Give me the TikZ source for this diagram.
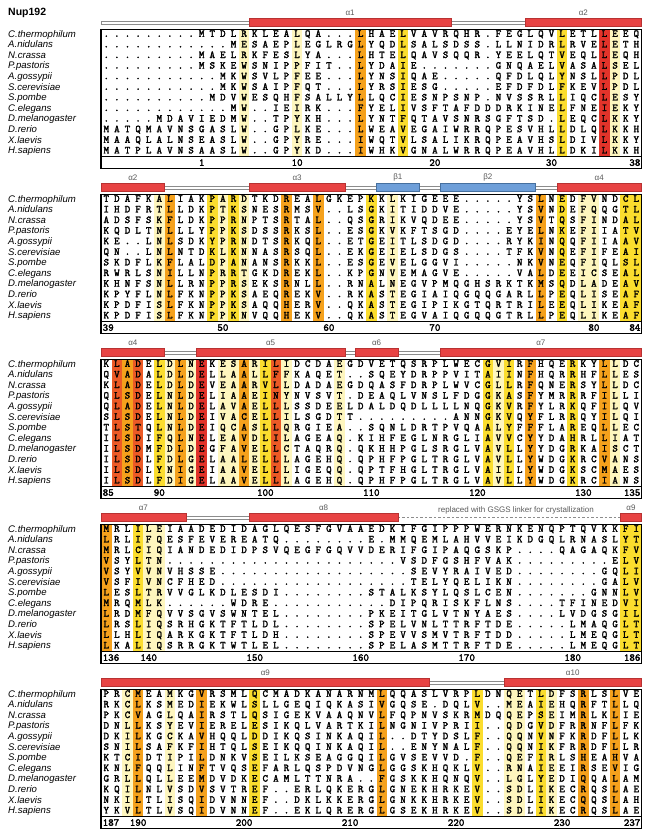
\documentclass[tikz,border=0pt]{standalone}
\usepackage{fontspec}
\setmainfont{Liberation Sans}
\newfontfamily\seqfont{Latin Modern Mono}[FakeBold=2.2]
\usepackage{tikz}
\usetikzlibrary{calc}
\usepackage{xcolor}
\definecolor{helixRed}{HTML}{E84343}
\definecolor{helixEdge}{HTML}{B83232}
\definecolor{strandBlue}{HTML}{6E9FD9}
\definecolor{strandEdge}{HTML}{46709F}
\definecolor{loopGray}{HTML}{8C8C8C}
\definecolor{labelGray}{HTML}{5A5A5A}
\definecolor{consRed}{HTML}{E2332A}
\definecolor{consDeep}{HTML}{EC5A26}
\definecolor{consOrange}{HTML}{F5A11C}
\definecolor{consYellow}{HTML}{FBDD2E}
\definecolor{consPale}{HTML}{FEF6BE}
\def\boxX{101}
\def\colW{10.6}
\newcount\rescol
\def\endRes{}
\tikzset{
    SeqText/.style={font=\fontsize{10.5}{10.5}\selectfont\seqfont, inner sep=0pt, anchor=base},
    SpeciesText/.style={font=\fontsize{9.6}{10}\selectfont\itshape, inner sep=0pt, anchor=base west},
    RulerText/.style={font=\fontsize{10.5}{10.5}\selectfont\seqfont, inner sep=0pt, anchor=base},
    TitleText/.style={font=\fontsize{10.5}{12}\selectfont\bfseries, inner sep=0pt, anchor=west},
    SSLabel/.style={font=\fontsize{8}{9}\selectfont, text=labelGray, inner sep=0pt},
    HelixBar/.style={fill=helixRed, draw=helixEdge, line width=0.6pt},
    StrandBar/.style={fill=strandBlue, draw=strandEdge, line width=0.6pt},
    LoopBar/.style={fill=white, draw=loopGray, line width=0.6pt},
    LinkerLine/.style={draw=loopGray, line width=0.8pt, dash pattern=on 2.5pt off 2pt},
    BoxLine/.style={draw=black, line width=1.3pt}
}
% one residue after the other, column by column
\def\readRes#1{%
  \ifx#1\endRes\let\nextRes\relax
  \else
    \advance\rescol by 1\relax
    \node[SeqText] (res-\rowTag-\the\rescol) at ({\boxX+(\the\rescol-0.5)*\colW},\rowY+3.2) {#1};%
    \let\nextRes\readRes
  \fi\nextRes}
\newcommand{\seqRow}[3]{%
  \pgfmathsetmacro\rowY{\blkTop+4.3+10.6*#1}%
  \node[SpeciesText] (sp-\blkId-#1) at (8,\rowY+3.4) {#2};%
  \rescol=0 \edef\rowTag{\blkId-#1}%
  \readRes#3\endRes}
\newcommand{\consBands}[1]{%
  \foreach \c/\cl in {#1}{\fill[\cl] ({\boxX+(\c-1)*\colW},\blkTop) rectangle ++(\colW,127);}}
\newcommand{\blockBox}{%
  \draw[BoxLine] (\boxX,\blkTop) rectangle ({\boxX+51*\colW},\blkTop+139);
  \draw[BoxLine] (\boxX,\blkTop+127) -- ({\boxX+51*\colW},\blkTop+127);}
\newcommand{\loopLine}[2]{%
  \filldraw[LoopBar] ({\boxX+#1*\colW},\blkTop-8) rectangle ({\boxX+#2*\colW},\blkTop-5.4);}
\newcommand{\ssBar}[5]{%
  \draw[#1] ({\boxX+#2*\colW},\blkTop-11) rectangle ({\boxX+#3*\colW},\blkTop-2.6);
  \node[SSLabel] (#5) at ({\boxX+(#2+#3)/2*\colW},\blkTop-16.5) {#4};}
\newcommand{\rulerMarks}[3]{%
  \node[RulerText, anchor=base west] (num-#1) at (\boxX+1.5,\blkTop+136.5) {#1};
  \foreach \c/\n in {#2}{\node[RulerText] (num-\n) at ({\boxX+(\c-0.5)*\colW},\blkTop+136.5) {\n};}
  \node[RulerText, anchor=base east] (num-#3) at ({\boxX+51*\colW-1},\blkTop+136.5) {#3};}

\begin{document}
\begin{tikzpicture}[x=1pt, y=-1pt]
    \useasboundingbox (0,0) rectangle (650,838);
    \node[TitleText] (title) at (8,13) {Nup192};

    % residues 1-38
    \def\blkTop{29.3}\def\blkId{1}
    \loopLine{0}{51}
    \ssBar{HelixBar}{14}{33}{α1}{h1}
    \ssBar{HelixBar}{40}{51}{α2}{h2a}
    \consBands{14/consPale,19/consPale,25/consOrange,29/consYellow,44/consYellow,48/consRed,49/consPale}
    \seqRow{0}{C.thermophilum}{.........MTDLRKLEALQA...LHAELVAVRQHR.FEGLQVLETLLEEQ}
    \seqRow{1}{A.nidulans}{............MESAEPLEGLRGLYQDLSALSDSS.LLNIDRLRVELETH}
    \seqRow{2}{N.crassa}{.........MAELRKFESLYA...LHTELQAVSQQR.YEELQTVEQLLEQH}
    \seqRow{3}{P.pastoris}{.........MSKEWSNIPPFIT..LYDAIE.......GNQAELVASALSEL}
    \seqRow{4}{A.gossypii}{...........MKWSVLPFEE...LYNSIQAE.....QFDLQLYNSLLPDL}
    \seqRow{5}{S.cerevisiae}{...........MKWSAIPFQT...LYRSIESG.....EFDFDLFKEVLPDL}
    \seqRow{6}{S.pombe}{..........MDVWESQHFSALLYLLQCIESNPSNP.NVSSRLLIQCLESY}
    \seqRow{7}{C.elegans}{............MW..IEIRK...FYELIVSFTAFDDDRKINELFNEIEKY}
    \seqRow{8}{D.melanogaster}{.....MDAVIEDMW..TPYKH...LYNTFQTAVSNRSGFTSD.LEQCLKKY}
    \seqRow{9}{D.rerio}{MATQMAVNSGASLW..GPLKE...LWEAVEGAIWRRQPESVHLLDLQLKKH}
    \seqRow{10}{X.laevis}{MAAQLALNSEASLW..GPYRE...IWQTVLSALIKRQPEAVHSLDIVLKKY}
    \seqRow{11}{H.sapiens}{MATPLAVNSAASLW..GPYKD...IWHKVGNALWRRQPEAVHLLDKILKKH}
    \blockBox
    \foreach \c/\n in {10/1,19/10,32/20,43/30}{\node[RulerText] (num-\n) at ({\boxX+(\c-0.5)*\colW},\blkTop+136.5) {\n};}
    \node[RulerText, anchor=base east] (num-38) at ({\boxX+51*\colW-1},\blkTop+136.5) {38};

    % residues 39-84
    \def\blkTop{194.3}\def\blkId{2}
    \loopLine{0}{51}
    \ssBar{HelixBar}{0}{6}{α2}{h2b}
    \ssBar{HelixBar}{14}{23}{α3}{h3}
    \ssBar{StrandBar}{26}{30}{β1}{s1}
    \ssBar{StrandBar}{32}{41}{β2}{s2}
    \ssBar{HelixBar}{43}{51}{α4}{h4a}
    \consBands{6/consPale,7/consOrange,11/consYellow,12/consPale,13/consYellow,14/consPale,18/consOrange,21/consOrange,26/consYellow,28/consPale,42/consOrange,44/consYellow,46/consPale,47/consPale,50/consYellow,51/consYellow}
    \seqRow{0}{C.thermophilum}{TDAFKALIAKPARDTKDREALGKEPKKLKIGEEE.....YSLNEDFVNDCL}
    \seqRow{1}{A.nidulans}{IHDFRTLLDKPTKSNESRMSV..LSGKITIDDVE.....YSVNDEFQQGTL}
    \seqRow{2}{N.crassa}{ADSFSKFLDKPPRNPTSRTAL..QSGRIKVQDEE.....YSVTQSFINDAL}
    \seqRow{3}{P.pastoris}{KQDLTNLLLYPPKSDSSRKSL..ESGKVKFTSGD....EYELNKEFIIATV}
    \seqRow{4}{A.gossypii}{KE..LNLSDKYPRNDTSRKQL..ETGEITLSDGD....RYKINQQFIIAAV}
    \seqRow{5}{S.cerevisiae}{QN..LNLNTDKLKNNASRSQL..EKGEIELSDGS....TFKVNQEFIFEAI}
    \seqRow{6}{S.pombe}{SKDFLKFLALDPANANSRKKL..ESGEVELGGVI.....NKVNEQFIQLSL}
    \seqRow{7}{C.elegans}{RWRLSNILLNPRRTGKDREKL..KPGNVEMAGVE.....VALDEEICSEAL}
    \seqRow{8}{D.melanogaster}{KHNFSNLLRNPPRSEKSRNLL..RNALNEGVPMQGHSRKTKMSQDLADEAV}
    \seqRow{9}{D.rerio}{KPYFLNLFKNPPKSAEQREKV..RKASTEGIAIQGQQGARLLPEQLISEAF}
    \seqRow{10}{X.laevis}{KPDFISLFKNPPKSAQQHERV..QKASTEGIPIKGTQRTRILEEQLIKEAF}
    \seqRow{11}{H.sapiens}{KPDFISLFKNPPKNVQQHEKV..QKASTEGVAIQGQQGTRLLPEQLIKEAF}
    \blockBox
    \rulerMarks{39}{12/50,22/60,32/70,47/80}{84}

    % residues 85-135
    \def\blkTop{359.3}\def\blkId{3}
    \loopLine{0}{51}
    \ssBar{HelixBar}{0}{6}{α4}{h4b}
    \ssBar{HelixBar}{9}{23}{α5}{h5}
    \ssBar{HelixBar}{24}{28}{α6}{h6}
    \ssBar{HelixBar}{32}{51}{α7}{h7a}
    \consBands{2/consDeep,3/consOrange,4/consDeep,6/consYellow,7/consPale,8/consOrange,9/consPale,10/consRed,12/consPale,13/consPale,14/consOrange,15/consPale,16/consYellow,17/consDeep,18/consPale,23/consPale,37/consYellow,38/consPale,39/consYellow,41/consOrange,45/consYellow,48/consOrange,49/consPale}
    \seqRow{0}{C.thermophilum}{KLADELDLNEKESARILIDCDAEGDVETQSRPLWECGVIRFHQERKYLLDC}
    \seqRow{1}{A.nidulans}{QVADALDLDELLAALLFFKAQET..SQEYDRPPVITAIINFHQRRHFLLES}
    \seqRow{2}{N.crassa}{KLADELDLDEVEAARVLLDADAEGDQASFDRPLWVCGLLRFQNERSYLLDC}
    \seqRow{3}{P.pastoris}{QLSDELNLDELIAAEINYNVSVT.DEAQLVNSLFDGGKASFYMRRRFILLI}
    \seqRow{4}{A.gossypii}{QLADELNLDELAVAELLLSSDEELDALDQDLLLLNQGKVRFYLRKQFILQV}
    \seqRow{5}{S.cerevisiae}{SLSDELNLDEIVACELLILSGDTT.........ANNGKVQYFLRRQYILQI}
    \seqRow{6}{S.pombe}{TLSTQLNLDEIQCASLLQRGIEA..SQNLDRTPVQAALYFFFLAREQLLEC}
    \seqRow{7}{C.elegans}{ILSDIFQLNELEAVDLILAGEAQ.KIHFEGLNRGLIAVVCYYDAHRLLIAT}
    \seqRow{8}{D.melanogaster}{ILSDMFDLDEGFAVELLCTAQRQ.QKHHPGLSRGLVAVLLYYDGRKAISCT}
    \seqRow{9}{D.rerio}{ILSDLFDLGELAALELLLAGEHQ.QPHFPGLTRGLVAVLLYWDGKRCVANS}
    \seqRow{10}{X.laevis}{ILSDLYNIGEIAAVELLLIGEQQ.QPTFHGLTRGLVAILLYWDGKSCMAES}
    \seqRow{11}{H.sapiens}{ILSDLFDIGELAAVELLLAGEHQ.QPHFPGLTRGLVAVLLYWDGKRCIANS}
    \blockBox
    \rulerMarks{85}{6/90,16/100,26/110,36/120,46/130}{135}

    % residues 136-186
    \def\blkTop{524.3}\def\blkId{4}
    \loopLine{0}{28}
    \draw[LinkerLine] ({\boxX+28*\colW},\blkTop-6.7) -- ({\boxX+49*\colW},\blkTop-6.7);
    \ssBar{HelixBar}{0}{8}{α7}{h7b}
    \ssBar{HelixBar}{14}{28}{α8}{h8}
    \ssBar{HelixBar}{49}{51}{α9}{h9a}
    \node[SSLabel] (linker) at (516,\blkTop-14) {replaced with GSGS linker for crystallization};
    \consBands{1/consOrange,4/consYellow,5/consPale,6/consPale,50/consYellow,51/consYellow}
    \seqRow{0}{C.thermophilum}{MRLILEIAADEDIDAGLQESFGVAAEDKIFGIPPPWERNKENQPTQVKKFI}
    \seqRow{1}{A.nidulans}{LRLIFQESFEVEREATQ........E.MMQEMLAHVVEIKDGQLRNASLYT}
    \seqRow{2}{N.crassa}{MRLCIQIANDEDIDPSVQEGFGQVVDERIFGIPAQGSKP....QAGAQKFV}
    \seqRow{3}{P.pastoris}{VSYLTN......................VSDFGSHFVAK.........ELV}
    \seqRow{4}{A.gossypii}{VSYVVNVHSSE..................SEVYRAIVED........GQLI}
    \seqRow{5}{S.cerevisiae}{VSFIVNCFHED..................TELYQELIKN........GALV}
    \seqRow{6}{S.pombe}{LESLTRVVGLKDLESDI........STALKSYLQSLCEN.......GNNLV}
    \seqRow{7}{C.elegans}{MRQMLK......WDRE...........DIPQRISKFLNS....TFINEDVI}
    \seqRow{8}{D.melanogaster}{LRDMFQVVSGVSWNTEL........PKEITGLVTNYAES....LVDGSGIL}
    \seqRow{9}{D.rerio}{LRSLIQSRHGKTFTLDL........SPELVNLTTRFTDE.....LMAQGLT}
    \seqRow{10}{X.laevis}{LLHLIQARKGKTFTLDH........SPEVVSMVTRFTDD.....LMEQGLT}
    \seqRow{11}{H.sapiens}{LKALIQSRRGKTWTLEL........SPELASMTTRFTDE.....LMEQGLT}
    \blockBox
    \rulerMarks{136}{5/140,15/150,25/160,35/170,45/180}{186}

    % residues 187-237
    \def\blkTop{689.3}\def\blkId{5}
    \loopLine{0}{51}
    \ssBar{HelixBar}{0}{31}{α9}{h9b}
    \ssBar{HelixBar}{38}{51}{α10}{h10}
    \consBands{3/consPale,4/consOrange,7/consPale,10/consOrange,15/consYellow,27/consOrange,36/consYellow,39/consPale,40/consPale,42/consYellow,43/consPale,46/consOrange,49/consOrange}
    \seqRow{0}{C.thermophilum}{PRCMEAMKGVRSMLQCMADKANARNMLQQASLVRPLDNQETLDFSRLSLVE}
    \seqRow{1}{A.nidulans}{RKCLKSMEDIEKWLSLLGEQIQKASIVGQSE.DQLV..MEAIEHQRFTLLQ}
    \seqRow{2}{N.crassa}{PKCVAGLQAIRSTLQSIGEKVAAQNVLFQPNVSKRMDQQEPSEIMRLKLIE}
    \seqRow{3}{P.pastoris}{DNLLKSYEVIERELESIKQLVARTKILNGNIVPRII..QDGVDFRRNFLFK}
    \seqRow{4}{A.gossypii}{DKILKGCKAVHQQLDDIKQSINKAQIL..DTYDSLF..QQNVNFKRDFLLK}
    \seqRow{5}{S.cerevisiae}{SNILSAFKFIHTQLSEIKQQINKAQIL..ENYNALF..QQNIKFRRDFLLR}
    \seqRow{6}{S.pombe}{KTCIDTIPILDNKVSEILKSEAGGQILGVSEVVD.F..QEFIRLSHEAHVA}
    \seqRow{7}{C.elegans}{KNLFQQLINFTVQSEFARLQSPDVNGLGGSKHQKLV..RNAIEEIRSEVIG}
    \seqRow{8}{D.melanogaster}{GRLLQLLEEMDVDKECAMLTTNRA..FGSKKHQNQV..LGLYEDIQQALAM}
    \seqRow{9}{D.rerio}{KQILNLVSDVSVTREF..ERLQKERGLGNEKHRKEV..SDLIKECRQSLAE}
    \seqRow{10}{X.laevis}{NKILTLISQIDVNNEF..DKLKKERGLGNKKHRKEV..SDLIKECQQSLAH}
    \seqRow{11}{H.sapiens}{YKVLTLVSQIDVNNEF..EKLQRERGLGSEKHRKEV..SDLIKECRQSLAE}
    \blockBox
    \rulerMarks{187}{4/190,14/200,24/210,34/220,44/230}{237}
\end{tikzpicture}
\end{document}
